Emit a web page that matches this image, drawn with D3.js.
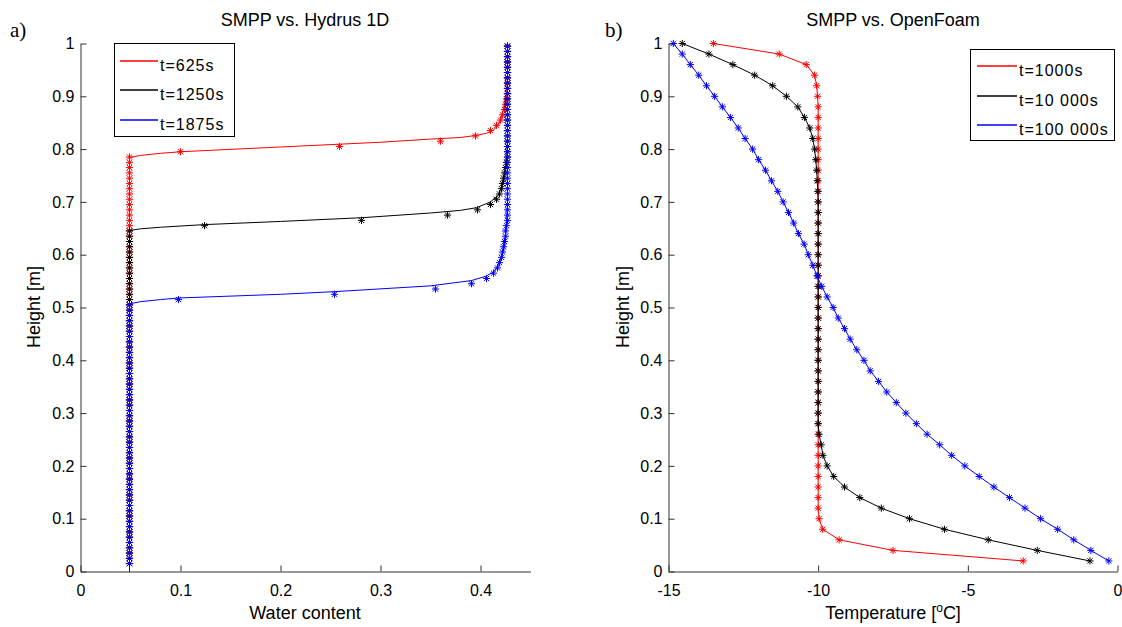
<!DOCTYPE html>
<html><head><meta charset="utf-8">
<script src="https://cdn.jsdelivr.net/npm/d3@7"></script>
<style>body{margin:0;background:#fff}svg{display:block}text{font-family:"Liberation Sans",Arial,sans-serif;fill:#000}</style>
</head><body><svg id="c" width="1122" height="627"></svg>
<script>
// ---------- Panel a) data ----------
const waterTicks = [0, 0.1, 0.2, 0.3, 0.4];
const heightTicks = [0, 0.1, 0.2, 0.3, 0.4, 0.5, 0.6, 0.7, 0.8, 0.9, 1];
const legendA = ["t=625s", "t=1250s", "t=1875s"];
// Hydrus 1D node heights (markers)
const hydrusHeights = [0.015,0.025,0.035,0.045,0.055,0.065,0.075,0.085,0.095,0.105,0.115,0.125,0.135,0.145,0.155,0.165,0.175,0.185,0.195,0.205,0.215,0.225,0.235,0.245,0.255,0.265,0.275,0.285,0.295,0.305,0.315,0.325,0.335,0.345,0.355,0.365,0.375,0.385,0.395,0.405,0.415,0.425,0.435,0.445,0.455,0.465,0.475,0.485,0.495,0.505,0.515,0.525,0.535,0.545,0.555,0.565,0.575,0.585,0.595,0.605,0.615,0.625,0.635,0.645,0.655,0.665,0.675,0.685,0.695,0.705,0.715,0.725,0.735,0.745,0.755,0.765,0.775,0.785,0.795,0.805,0.815,0.825,0.835,0.845,0.855,0.865,0.875,0.885,0.895,0.905,0.915,0.925,0.935,0.945,0.955,0.965,0.975,0.985,0.995];
const hydrus625 = [0.049,0.049,0.049,0.049,0.049,0.049,0.049,0.049,0.049,0.049,0.049,0.049,0.049,0.049,0.049,0.049,0.049,0.049,0.049,0.049,0.049,0.049,0.049,0.049,0.049,0.049,0.049,0.049,0.049,0.049,0.049,0.049,0.049,0.049,0.049,0.049,0.049,0.049,0.049,0.049,0.049,0.049,0.049,0.049,0.049,0.049,0.049,0.049,0.049,0.049,0.049,0.049,0.049,0.049,0.049,0.049,0.049,0.049,0.049,0.049,0.049,0.049,0.049,0.049,0.049,0.049,0.049,0.049,0.049,0.049,0.049,0.049,0.049,0.049,0.049,0.049,0.049,0.049,0.100,0.259,0.360,0.395,0.410,0.416,0.420,0.422,0.424,0.425,0.426,0.427,0.427,0.427,0.427,0.427,0.427,0.427,0.427,0.427,0.427];
const hydrus1250 = [0.049,0.049,0.049,0.049,0.049,0.049,0.049,0.049,0.049,0.049,0.049,0.049,0.049,0.049,0.049,0.049,0.049,0.049,0.049,0.049,0.049,0.049,0.049,0.049,0.049,0.049,0.049,0.049,0.049,0.049,0.049,0.049,0.049,0.049,0.049,0.049,0.049,0.049,0.049,0.049,0.049,0.049,0.049,0.049,0.049,0.049,0.049,0.049,0.049,0.049,0.049,0.049,0.049,0.049,0.049,0.049,0.049,0.049,0.049,0.049,0.049,0.049,0.049,0.049,0.124,0.281,0.367,0.397,0.410,0.416,0.419,0.421,0.422,0.423,0.424,0.425,0.426,0.427,0.427,0.427,0.427,0.427,0.427,0.427,0.427,0.427,0.427,0.427,0.427,0.427,0.427,0.427,0.427,0.427,0.427,0.427,0.427,0.427,0.427];
const hydrus1875 = [0.049,0.049,0.049,0.049,0.049,0.049,0.049,0.049,0.049,0.049,0.049,0.049,0.049,0.049,0.049,0.049,0.049,0.049,0.049,0.049,0.049,0.049,0.049,0.049,0.049,0.049,0.049,0.049,0.049,0.049,0.049,0.049,0.049,0.049,0.049,0.049,0.049,0.049,0.049,0.049,0.049,0.049,0.049,0.049,0.049,0.049,0.049,0.049,0.049,0.049,0.098,0.254,0.355,0.391,0.406,0.413,0.417,0.419,0.421,0.422,0.423,0.424,0.425,0.425,0.426,0.427,0.427,0.427,0.427,0.427,0.427,0.427,0.427,0.427,0.427,0.427,0.427,0.427,0.427,0.427,0.427,0.427,0.427,0.427,0.427,0.427,0.427,0.427,0.427,0.427,0.427,0.427,0.427,0.427,0.427,0.427,0.427,0.427,0.427];
// SMPP model curves (water content, height)
const smpp625W = [0.049,0.049,0.06,0.08,0.10,0.20,0.30,0.35,0.38,0.396,0.406,0.413,0.418,0.421,0.424,0.426,0.427,0.427];
const smpp625H = [0,0.784,0.788,0.792,0.795,0.804,0.813,0.819,0.822,0.826,0.830,0.836,0.846,0.860,0.885,0.905,0.94,1.0];
const smpp1250W = [0.049,0.049,0.06,0.08,0.124,0.20,0.281,0.35,0.38,0.396,0.41,0.418,0.421,0.424,0.426,0.427,0.427];
const smpp1250H = [0,0.646,0.649,0.652,0.657,0.663,0.670,0.679,0.684,0.689,0.700,0.713,0.728,0.745,0.779,0.82,1.0];
const smpp1875W = [0.049,0.049,0.06,0.08,0.098,0.20,0.254,0.35,0.391,0.405,0.413,0.418,0.421,0.424,0.425,0.426,0.427,0.427];
const smpp1875H = [0,0.507,0.511,0.515,0.518,0.525,0.530,0.541,0.551,0.559,0.567,0.580,0.596,0.615,0.63,0.66,0.70,1.0];

// ---------- Panel b) data ----------
const tempTicks = [-15, -10, -5, 0];
const legendB = ["t=1000s", "t=10 000s", "t=100 000s"];
const tempHeights = [1.00,0.98,0.96,0.94,0.92,0.90,0.88,0.86,0.84,0.82,0.80,0.78,0.76,0.74,0.72,0.70,0.68,0.66,0.64,0.62,0.60,0.58,0.56,0.54,0.52,0.50,0.48,0.46,0.44,0.42,0.40,0.38,0.36,0.34,0.32,0.30,0.28,0.26,0.24,0.22,0.20,0.18,0.16,0.14,0.12,0.10,0.08,0.06,0.04,0.02];
const temp1000 = [-13.5,-11.3,-10.4,-10.12,-10.05,-10.02,-10,-10,-10,-10,-10,-10,-10,-10,-10,-10,-10,-10,-10,-10,-10,-10,-10,-10,-10,-10,-10,-10,-10,-10,-10,-10,-10,-10,-10,-10,-10,-10,-10,-10,-10,-10,-10,-10,-10,-9.97,-9.85,-9.3,-7.5,-3.15];
const temp10000 = [-14.54,-13.65,-12.85,-12.12,-11.52,-11.06,-10.68,-10.46,-10.28,-10.18,-10.12,-10.08,-10.05,-10.03,-10.01,-10,-10,-10,-10,-10,-10,-10,-10,-10,-10,-10,-10,-10,-10,-10,-10,-10,-10,-10,-10,-10,-10,-9.97,-9.90,-9.84,-9.70,-9.48,-9.12,-8.61,-7.89,-6.95,-5.78,-4.32,-2.68,-0.92];
const temp100000 = [-14.84,-14.54,-14.27,-13.99,-13.73,-13.46,-13.20,-12.93,-12.67,-12.44,-12.19,-11.99,-11.76,-11.56,-11.35,-11.17,-10.99,-10.82,-10.66,-10.47,-10.33,-10.18,-10.04,-9.88,-9.70,-9.50,-9.33,-9.12,-8.93,-8.71,-8.47,-8.26,-7.98,-7.71,-7.39,-7.07,-6.72,-6.36,-5.94,-5.54,-5.10,-4.62,-4.13,-3.61,-3.09,-2.57,-2.00,-1.46,-0.89,-0.29];

const colors = ["#ff0000", "#000000", "#0000ff"];

// ---------- drawing ----------
const svg = d3.select("#c");
svg.append("rect").attr("width",1122).attr("height",627).attr("fill","#fff");

function star(x, y) {
  const a = 3.6, d = 2.6;
  return `M${x-a},${y}H${x+a}M${x},${y-a}V${y+a}M${x-d},${y-d}L${x+d},${y+d}M${x-d},${y+d}L${x+d},${y-d}`;
}

function drawAxes(g, xs, ys, xt, yt) {
  const ax = g.append("g").attr("transform", `translate(0,${ys.range()[0]})`)
    .call(d3.axisBottom(xs).tickValues(xt).tickSizeInner(-6).tickSizeOuter(0).tickPadding(13).tickFormat(d => String(d)));
  const ay = g.append("g").attr("transform", `translate(${xs.range()[0]},0)`)
    .call(d3.axisLeft(ys).tickValues(yt).tickSizeInner(-6).tickSizeOuter(0).tickPadding(6).tickFormat(d => String(d)));
  [ax, ay].forEach(a => {
    a.selectAll("path,line").attr("stroke", "#333").attr("stroke-width", 1);
    a.selectAll("text").attr("font-size", 16).attr("fill", "#000")
      .style("font-family", '"Liberation Sans",Arial,sans-serif');
  });
}

function legend(g, x0, y0, w, h, lx0, lx1, tx, rows, labels) {
  g.append("rect").attr("x", x0).attr("y", y0).attr("width", w).attr("height", h)
    .attr("fill", "#fff").attr("stroke", "#000").attr("stroke-width", 1);
  labels.forEach((lab, i) => {
    const ly = Math.round(rows[i] - 4.5);
    g.append("line").attr("x1", lx0).attr("x2", lx1).attr("y1", ly).attr("y2", ly)
      .attr("stroke", colors[i]).attr("stroke-width", 1.6);
    g.append("text").attr("x", tx).attr("y", rows[i] + 5.7).attr("font-size", 16)
      .attr("letter-spacing", 1).text(lab);
  });
}

// Panel a
const xA = d3.scaleLinear().domain([0, 0.45]).range([80.5, 530.5]);
const yA = d3.scaleLinear().domain([0, 1]).range([571.5, 43.5]);
const gA = svg.append("g");
drawAxes(gA, xA, yA, waterTicks, heightTicks);

const seriesA = [
  {w: smpp625W, h: smpp625H, m: hydrus625},
  {w: smpp1250W, h: smpp1250H, m: hydrus1250},
  {w: smpp1875W, h: smpp1875H, m: hydrus1875}
];
const lineGen = d3.line();
seriesA.forEach((s, i) => {
  const pts = s.w.map((w, j) => [xA(w), yA(s.h[j])]);
  gA.append("path").attr("d", lineGen(pts)).attr("fill", "none").attr("stroke", colors[i]).attr("stroke-width", 1);
  const mp = s.m.map((w, j) => star(xA(w), yA(hydrusHeights[j]))).join("");
  gA.append("path").attr("d", mp).attr("fill", "none").attr("stroke", colors[i]).attr("stroke-width", 1);
});

gA.append("text").attr("x", 305).attr("y", 26).attr("text-anchor", "middle").attr("font-size", 18).text("SMPP vs. Hydrus 1D");
gA.append("text").attr("x", 305).attr("y", 619).attr("text-anchor", "middle").attr("font-size", 18).text("Water content");
gA.append("text").attr("transform", "translate(40,307) rotate(-90)").attr("text-anchor", "middle").attr("font-size", 18).text("Height [m]");
gA.append("text").attr("x", 10).attr("y", 37).attr("font-size", 21).style("font-family", '"Liberation Serif","Times New Roman",serif').text("a)");
legend(gA, 114.5, 43.5, 120, 93, 120, 158, 160, [65.5, 94.7, 124], legendA);

// Panel b
const xB = d3.scaleLinear().domain([-15, 0]).range([668.5, 1117.5]);
const yB = d3.scaleLinear().domain([0, 1]).range([571.5, 43.5]);
const gB = svg.append("g");
drawAxes(gB, xB, yB, tempTicks, heightTicks);

[temp1000, temp10000, temp100000].forEach((arr, i) => {
  const pts = arr.map((t, j) => [xB(t), yB(tempHeights[j])]);
  gB.append("path").attr("d", lineGen(pts)).attr("fill", "none").attr("stroke", colors[i]).attr("stroke-width", 1);
  const mp = pts.map(p => star(p[0], p[1])).join("");
  gB.append("path").attr("d", mp).attr("fill", "none").attr("stroke", colors[i]).attr("stroke-width", 1);
});

gB.append("text").attr("x", 893).attr("y", 26).attr("text-anchor", "middle").attr("font-size", 18).text("SMPP vs. OpenFoam");
const tl = gB.append("text").attr("x", 893).attr("y", 619).attr("text-anchor", "middle").attr("font-size", 18);
tl.append("tspan").text("Temperature [");
tl.append("tspan").attr("font-size", 12).attr("dy", -7).text("o");
tl.append("tspan").attr("dy", 7).text("C]");
gB.append("text").attr("transform", "translate(629,307) rotate(-90)").attr("text-anchor", "middle").attr("font-size", 18).text("Height [m]");
gB.append("text").attr("x", 605).attr("y", 37).attr("font-size", 21).style("font-family", '"Liberation Serif","Times New Roman",serif').text("b)");
legend(gB, 970.5, 49.5, 144, 91, 977, 1017, 1019, [70, 100, 129.5], legendB);
</script></body></html>
